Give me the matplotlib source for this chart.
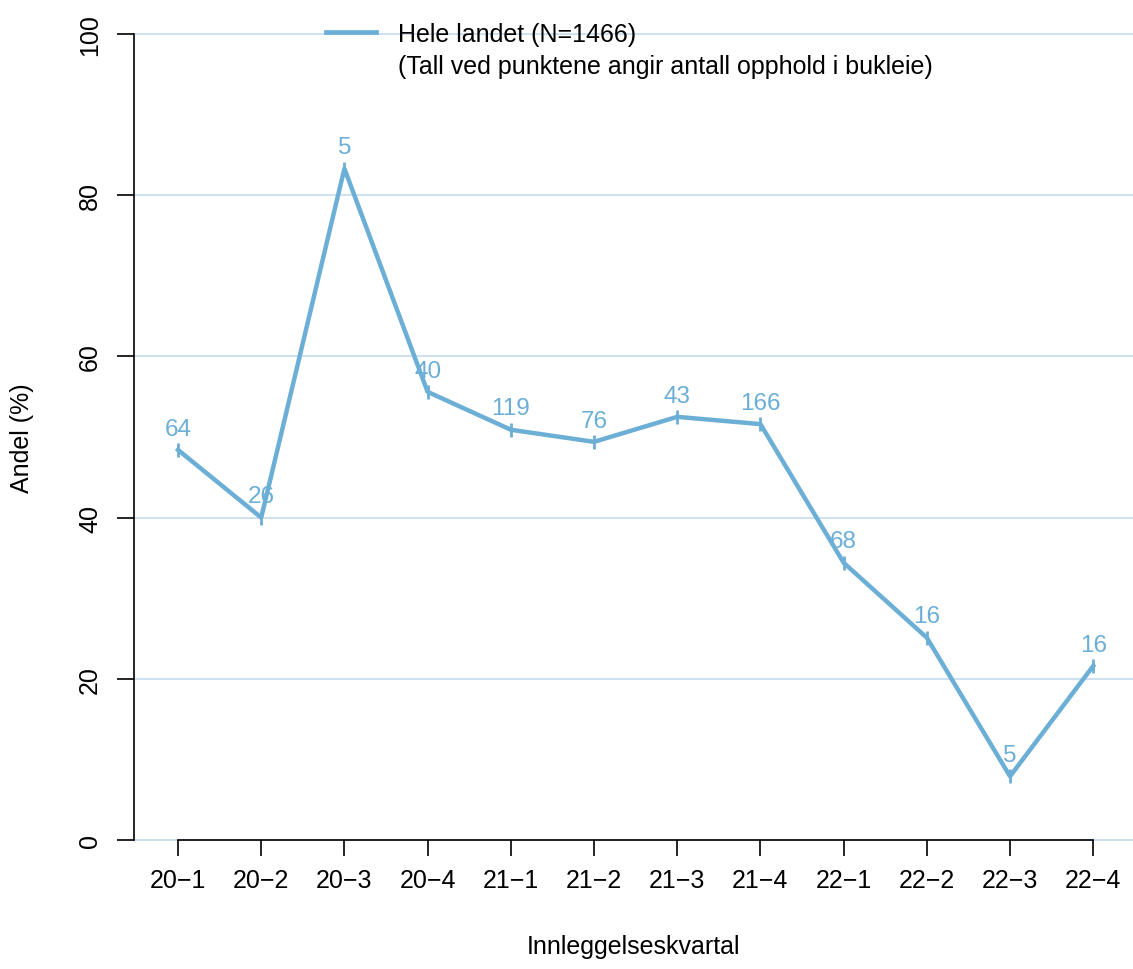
import matplotlib.pyplot as plt
from matplotlib.lines import Line2D

plt.rcParams['font.family'] = ['Liberation Sans', 'DejaVu Sans']

quarters = ["20-1", "20-2", "20-3", "20-4", "21-1", "21-2",
            "21-3", "21-4", "22-1", "22-2", "22-3", "22-4"]
andel = [48.4, 40.0, 83.3, 55.6, 50.9, 49.4, 52.5, 51.6, 34.4, 25.1, 7.9, 21.6]
antall = [64, 26, 5, 40, 119, 76, 43, 166, 68, 16, 5, 16]
yticks = [0, 20, 40, 60, 80, 100]

line_col = "#6baed6"
grid_col = "#c6dbef"

fig = plt.figure(figsize=(11.33, 9.7), dpi=100)
ax = fig.add_axes([134 / 1133, 129 / 970, 999 / 1133, 806 / 970])

x = list(range(len(quarters)))
for y in yticks:
    ax.axhline(y, color=grid_col, lw=1.2, zorder=0, clip_on=False)

ax.plot(x, andel, color=line_col, lw=3.2, marker="|", markersize=10,
        markeredgewidth=2, clip_on=False)
for xi, yi, n in zip(x, andel, antall):
    ax.annotate(str(n), (xi, yi), xytext=(0, 11), textcoords="offset points",
                ha="center", va="baseline", color=line_col, fontsize=17.5)

ax.set_xlim(-0.529, 11.478)
ax.set_ylim(0, 100)
ax.set_xticks(x)
ax.set_xticklabels([q.replace("-", "\u2212") for q in quarters], fontsize=18)
ax.set_yticks(yticks)
ax.set_yticklabels([str(v) for v in yticks], fontsize=18, rotation=90, va="center")
ax.tick_params(axis="x", length=11.5, width=1.2, pad=9)
ax.tick_params(axis="y", length=12, width=1.2, pad=11)

for s in ["top", "right"]:
    ax.spines[s].set_visible(False)
ax.spines["bottom"].set_bounds(0, 11)
ax.spines["left"].set_bounds(0, 100)
ax.spines["bottom"].set_linewidth(1.2)
ax.spines["left"].set_linewidth(1.2)

ax.set_xlabel("Innleggelseskvartal", fontsize=18, labelpad=30)
ax.set_ylabel("Andel (%)", fontsize=18, labelpad=32)

handle = Line2D([], [], color=line_col, lw=3.4)
fig.legend([handle], ["Hele landet (N=1466)"], loc="center left",
           bbox_to_anchor=(326 / 1133, 1 - 35 / 970),
           frameon=False, fontsize=18, handlelength=2.0, handletextpad=0.88,
           borderpad=0, borderaxespad=0)
fig.text(398 / 1133, 1 - 67 / 970, "(Tall ved punktene angir antall opphold i bukleie)",
         fontsize=18, va="center", ha="left")

fig.savefig("out.png", dpi=100)
